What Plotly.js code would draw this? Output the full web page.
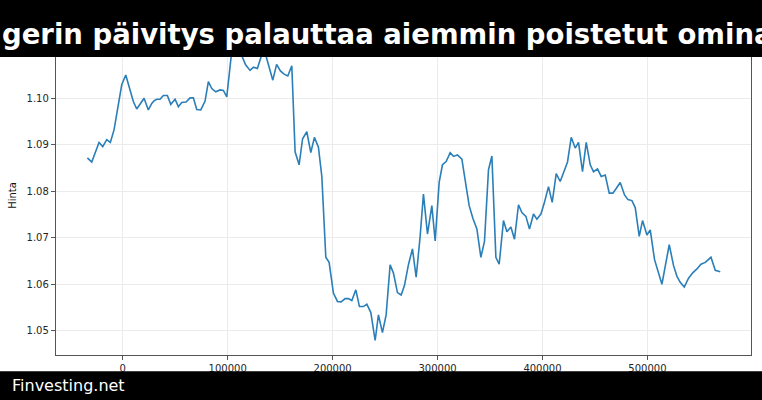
<!DOCTYPE html>
<html>
<head>
<meta charset="utf-8">
<script src="https://cdn.plot.ly/plotly-3.0.1.min.js"></script>
<style>
  html, body { margin: 0; padding: 0; background: #ffffff; }
  #chart { width: 762px; height: 400px; }
</style>
</head>
<body>
<div id="chart"></div>
<script>
// ---- data ----
const xValues = [
  -33700, -29550, -22590, -19070, -15250, -11820, -8290, -4770, -950, 2860,
  6290, 10100, 13350, 16780, 20310, 24400, 27650, 30030, 32410, 35560,
  38700, 42520, 45760, 49860, 53000, 56240, 60340, 64160, 67300, 70540,
  74360, 78460, 81600, 84840, 88660, 92760, 95900, 99140, 103720, 107060,
  110390, 113730, 117070, 121350, 124500, 128310, 133080, 136130, 143000, 146620,
  150240, 153770, 157290, 161110, 164250, 168060, 171400, 175410, 179220, 182650,
  186470, 189710, 193520, 196670, 200760, 204580, 208110, 211920, 215060, 218310,
  222120, 225550, 229360, 232610, 236420, 240520, 243660, 247470, 251000, 254820,
  257960, 261780, 265310, 268450, 272260, 276080, 279610, 283420, 286560, 290380,
  294570, 297720, 301530, 304670, 308200, 312020, 315160, 318980, 323170, 326320,
  330130, 333660, 337470, 341280, 344720, 348530, 351770, 355580, 358730, 362830,
  366070, 369880, 373320, 377130, 380370, 384180, 387610, 391430, 394670, 398480,
  401630, 405730, 409250, 413070, 416880, 420030, 423840, 427370, 431180, 434330,
  438140, 441670, 445490, 448630, 452440, 455970, 459790, 463600, 467120, 470560,
  474080, 478180, 481420, 485230, 488380, 492190, 495340, 499530, 502680, 506780,
  510310, 513830, 517260, 520790, 524890, 528130, 531280, 535090, 539190, 543380,
  547190, 551010, 555110, 560540, 564650, 569410
];
const priceValues = [
  1.0872, 1.0863, 1.0905, 1.0896, 1.0911, 1.0905, 1.0932, 1.0975, 1.1029, 1.1050,
  1.1021, 1.0993, 1.0977, 1.0988, 1.1000, 1.0975, 1.0989, 1.0995, 1.0998, 1.0998,
  1.1006, 1.1006, 1.0987, 1.0998, 1.0982, 1.0991, 1.0992, 1.1001, 1.1001, 1.0976,
  1.0975, 1.0994, 1.1036, 1.1021, 1.1014, 1.1018, 1.1017, 1.1003, 1.1098, 1.1112,
  1.1100, 1.1090, 1.1072, 1.1060, 1.1067, 1.1064, 1.1098, 1.1094, 1.1039, 1.1073,
  1.1059, 1.1052, 1.1048, 1.1070, 1.0885, 1.0857, 1.0913, 1.0928, 1.0883, 1.0916,
  1.0895, 1.0832, 1.0658, 1.0647, 1.0581, 1.0563, 1.0562, 1.0569, 1.0569, 1.0565,
  1.0588, 1.0552, 1.0552, 1.0557, 1.0539, 1.0479, 1.0534, 1.0496, 1.0534, 1.0642,
  1.0624, 1.0582, 1.0577, 1.0597, 1.0642, 1.0676, 1.0615, 1.0703, 1.0794, 1.0708,
  1.0769, 1.0693, 1.0819, 1.0857, 1.0864, 1.0883, 1.0875, 1.0878, 1.0869, 1.0828,
  1.0769, 1.0742, 1.0719, 1.0658, 1.0692, 1.0846, 1.0876, 1.0658, 1.0643, 1.0737,
  1.0713, 1.0723, 1.0697, 1.0771, 1.0754, 1.0746, 1.0719, 1.0751, 1.0740, 1.0751,
  1.0774, 1.0810, 1.0776, 1.0838, 1.0821, 1.0840, 1.0863, 1.0916, 1.0893, 1.0905,
  1.0842, 1.0905, 1.0857, 1.0842, 1.0848, 1.0832, 1.0835, 1.0796, 1.0796, 1.0807,
  1.0819, 1.0792, 1.0782, 1.0780, 1.0765, 1.0703, 1.0737, 1.0706, 1.0717, 1.0653,
  1.0627, 1.0600, 1.0642, 1.0685, 1.0640, 1.0617, 1.0604, 1.0594, 1.0613, 1.0625,
  1.0633, 1.0643, 1.0647, 1.0658, 1.0630, 1.0627
];
const xTickValues = [0, 100000, 200000, 300000, 400000, 500000];
const yTickValues = [1.05, 1.06, 1.07, 1.08, 1.09, 1.10];
const titleText = "gerin päivitys palauttaa aiemmin poistetut omina";
const yAxisLabel = "Hinta";
const footerText = "Finvesting.net";

// ---- layout geometry ----
const W = 762, H = 400;
const M = { l: 56, r: 11, t: 36, b: 45 };
const plotW = W - M.l - M.r, plotH = H - M.t - M.b;
const px2paperX = px => (px - M.l) / plotW;
const px2paperY = py => (H - M.b - py) / plotH;

const trace = {
  x: xValues,
  y: priceValues,
  type: 'scatter',
  mode: 'lines',
  line: { color: '#2a7fb8', width: 1.6 },
  hoverinfo: 'skip'
};

const tickFont = { family: 'DejaVu Sans, sans-serif', size: 10, color: '#262626' };

const layout = {
  width: W,
  height: H,
  margin: M,
  paper_bgcolor: '#ffffff',
  plot_bgcolor: '#ffffff',
  showlegend: false,
  xaxis: {
    range: [-63600, 598700],
    tickvals: xTickValues,
    tickformat: 'd',
    showgrid: true,
    gridcolor: '#ebebeb',
    gridwidth: 1,
    zeroline: false,
    showline: true,
    mirror: true,
    linecolor: '#555555',
    linewidth: 1.2,
    ticks: 'outside',
    ticklen: 4,
    tickcolor: '#555555',
    tickfont: tickFont
  },
  yaxis: {
    range: [1.04478, 1.1134],
    tickvals: yTickValues,
    tickformat: '.2f',
    showgrid: true,
    gridcolor: '#ebebeb',
    gridwidth: 1,
    zeroline: false,
    showline: true,
    mirror: true,
    linecolor: '#555555',
    linewidth: 1.2,
    ticks: 'outside',
    ticklen: 4,
    tickcolor: '#555555',
    tickfont: tickFont,
    title: { text: yAxisLabel, font: { family: 'DejaVu Sans, sans-serif', size: 10, color: '#111111' }, standoff: 8 }
  },
  shapes: [
    { type: 'rect', xref: 'paper', yref: 'paper', layer: 'above',
      x0: px2paperX(-5), x1: px2paperX(W + 5), y0: px2paperY(57), y1: px2paperY(-5),
      fillcolor: '#000000', line: { width: 0 } },
    { type: 'rect', xref: 'paper', yref: 'paper', layer: 'above',
      x0: px2paperX(-5), x1: px2paperX(W + 5), y0: px2paperY(H + 5), y1: px2paperY(371.3),
      fillcolor: '#000000', line: { width: 0 } }
  ],
  annotations: [
    { text: titleText, xref: 'paper', yref: 'paper', x: px2paperX(0), y: px2paperY(34),
      xanchor: 'left', yanchor: 'middle', showarrow: false,
      font: { family: 'DejaVu Sans, sans-serif', size: 27.5, color: '#ffffff', weight: 'bold' } },
    { text: footerText, xref: 'paper', yref: 'paper', x: px2paperX(10), y: px2paperY(385.5),
      xanchor: 'left', yanchor: 'middle', showarrow: false,
      font: { family: 'DejaVu Sans, sans-serif', size: 16, color: '#ffffff' } }
  ]
};

Plotly.newPlot('chart', [trace], layout, { staticPlot: true, displayModeBar: false });
</script>
</body>
</html>
